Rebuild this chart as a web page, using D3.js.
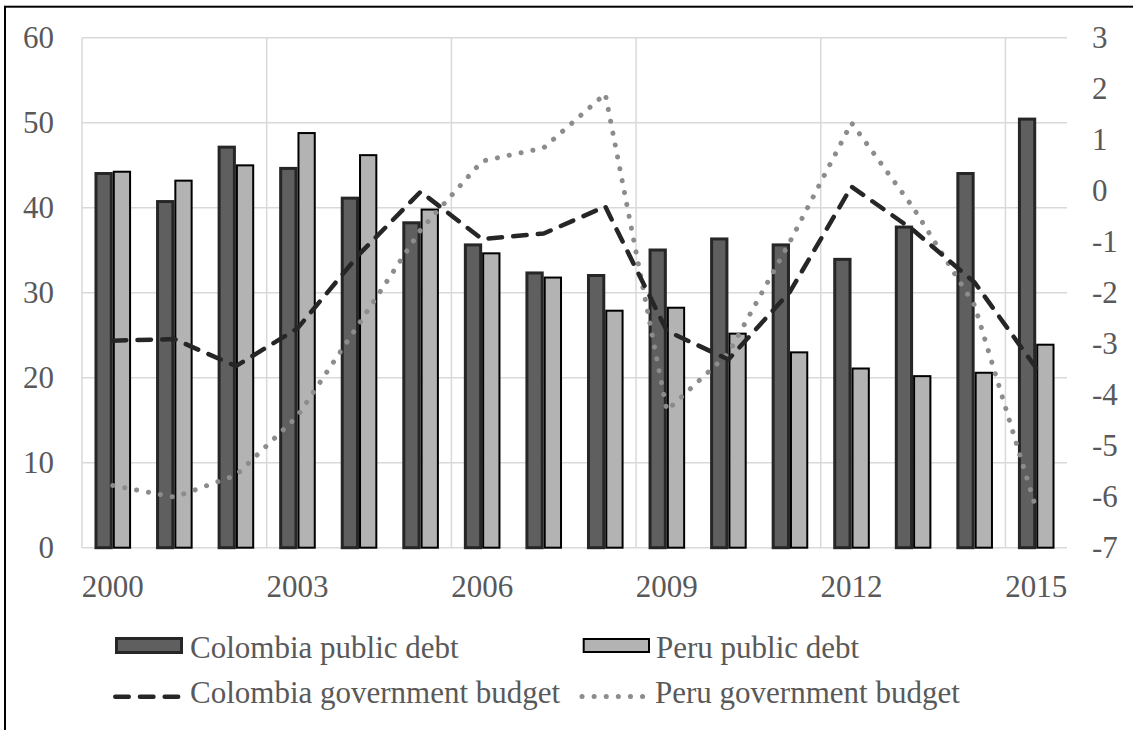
<html>
  <head>
    <script src="https://cdn.jsdelivr.net/npm/d3@7/dist/d3.min.js"></script>
    <style>
      body { margin: 0; background: #fff; }
    </style>
  </head>
  <body>
    <svg id="chart" width="1133" height="730" font-family="Liberation Serif, serif"></svg>
    <script>
      // data
      var years = ["2000","2001","2002","2003","2004","2005","2006","2007",
                   "2008","2009","2010","2011","2012","2013","2014","2015"];
      var colDebt = [44.2, 40.9, 47.3, 44.8, 41.3, 38.4, 35.8, 32.5,
                     32.2, 35.2, 36.5, 35.8, 34.1, 37.9, 44.2, 50.6];
      var peruDebt = [44.35, 43.3, 45.1, 48.9, 46.3, 39.9, 34.75, 31.9,
                      28.0, 28.35, 25.3, 23.1, 21.2, 20.3, 20.7, 24.0];
      var colBudget = [-2.94, -2.91, -3.44, -2.7, -1.25, -0.02, -0.95, -0.84,
                       -0.31, -2.75, -3.31, -1.98, 0.08, -0.77, -1.8, -3.48];
      var peruBudget = [-5.78, -6.01, -5.58, -4.42, -2.61, -0.77, 0.58, 0.84,
                        1.9, -4.31, -3.19, -1.0, 1.33, -0.33, -2.25, -6.24];
      var leftTicks = [0, 10, 20, 30, 40, 50, 60];
      var rightTicks = [-7, -6, -5, -4, -3, -2, -1, 0, 1, 2, 3];
      var yearTicks = ["2000","2003","2006","2009","2012","2015"];

      var svg = d3.select("#chart");
      var plotL = 82, plotR = 1067, plotT = 37.7, plotB = 547.7;
      var labelColor = "#595959";
      var fontFam = "Liberation Serif, serif";

      // frame (only left and top visible in the picture)
      svg.append("rect").attr("x", 5).attr("y", 6.7).attr("width", 1300).attr("height", 900)
        .attr("fill", "none").attr("stroke", "#000").attr("stroke-width", 2);

      var x = d3.scaleBand().domain(years).range([plotL, plotR]);
      var yL = d3.scaleLinear().domain([0, 60]).range([plotB, plotT]);
      var yR = d3.scaleLinear().domain([-7, 3]).range([plotB, plotT]);
      var bw = x.bandwidth();
      var x1 = d3.scaleBand().domain(["col", "peru"]).range([0, 36.6]);
      var off = (bw - 36.6) / 2;

      // gridlines
      var grid = svg.append("g").attr("stroke", "#d9d9d9").attr("stroke-width", 1.5);
      grid.selectAll("line.h").data(leftTicks).enter().append("line")
        .attr("x1", plotL).attr("x2", plotR)
        .attr("y1", function (d) { return yL(d); }).attr("y2", function (d) { return yL(d); });
      grid.selectAll("line.v").data(yearTicks).enter().append("line")
        .attr("x1", function (d) { return x(d); }).attr("x2", function (d) { return x(d); })
        .attr("y1", plotT).attr("y2", plotB);

      // bars
      var colSw = 3, peruSw = 2;
      svg.append("g").selectAll("rect").data(colDebt).enter().append("rect")
        .attr("x", function (d, i) { return x(years[i]) + off + x1("col") + colSw / 2; })
        .attr("y", function (d) { return yL(d) + colSw / 2; })
        .attr("width", x1.bandwidth() - colSw)
        .attr("height", function (d) { return plotB - yL(d) - colSw / 2; })
        .attr("fill", "#5f5f5f").attr("stroke", "#262626").attr("stroke-width", colSw);
      svg.append("g").selectAll("rect").data(peruDebt).enter().append("rect")
        .attr("x", function (d, i) { return x(years[i]) + off + x1("peru") + peruSw / 2; })
        .attr("y", function (d) { return yL(d) + peruSw / 2; })
        .attr("width", x1.bandwidth() - peruSw)
        .attr("height", function (d) { return plotB - yL(d) - peruSw / 2; })
        .attr("fill", "#b3b3b3").attr("stroke", "#000").attr("stroke-width", peruSw);

      // lines on right axis
      var line = d3.line()
        .x(function (d, i) { return x(years[i]) + bw / 2; })
        .y(function (d) { return yR(d); });
      svg.append("path").datum(peruBudget).attr("d", line)
        .attr("fill", "none").attr("stroke", "#8c8c8c").attr("stroke-width", 5)
        .attr("stroke-linecap", "round").attr("stroke-linejoin", "round")
        .attr("stroke-dasharray", "0.1,12");
      svg.append("path").datum(colBudget).attr("d", line)
        .attr("fill", "none").attr("stroke", "#262626").attr("stroke-width", 4.5)
        .attr("stroke-linecap", "round").attr("stroke-linejoin", "round")
        .attr("stroke-dasharray", "13.5,11.2");

      // axes
      function styleAxis(g) {
        g.attr("font-family", fontFam).attr("font-size", 31);
        g.select(".domain").remove();
        g.selectAll("text").attr("fill", labelColor);
      }
      svg.append("g").attr("transform", "translate(54,0)")
        .call(d3.axisLeft(yL).tickValues(leftTicks).tickSize(0).tickPadding(0))
        .call(styleAxis);
      svg.append("g").attr("transform", "translate(1092,0)")
        .call(d3.axisRight(yR).tickValues(rightTicks).tickSize(0).tickPadding(0)
          .tickFormat(function (d) { return String(d); }))
        .call(styleAxis);
      svg.append("g").attr("transform", "translate(0," + plotB + ")")
        .call(d3.axisBottom(x).tickValues(yearTicks).tickSize(0).tickPadding(27))
        .call(styleAxis);

      // legend
      var lg = svg.append("g").attr("font-family", fontFam).attr("font-size", 31);
      lg.append("rect").attr("x", 116.5).attr("y", 638.5).attr("width", 65).attr("height", 14)
        .attr("fill", "#5f5f5f").attr("stroke", "#262626").attr("stroke-width", 3);
      lg.append("rect").attr("x", 583.7).attr("y", 639).attr("width", 65.3).attr("height", 13)
        .attr("fill", "#b3b3b3").attr("stroke", "#000").attr("stroke-width", 2);
      lg.append("line").attr("x1", 115.25).attr("x2", 180).attr("y1", 696.7).attr("y2", 696.7)
        .attr("stroke", "#262626").attr("stroke-width", 4.5).attr("stroke-linecap", "round")
        .attr("stroke-dasharray", "13.5,11.2");
      lg.append("line").attr("x1", 582).attr("x2", 647).attr("y1", 696.5).attr("y2", 696.5)
        .attr("stroke", "#8c8c8c").attr("stroke-width", 5).attr("stroke-linecap", "round")
        .attr("stroke-dasharray", "0.1,12");
      var legendText = [
        { t: "Colombia public debt", x: 190, y: 658 },
        { t: "Peru public debt", x: 656, y: 658 },
        { t: "Colombia government budget", x: 190, y: 703 },
        { t: "Peru government budget", x: 655, y: 703 }
      ];
      lg.selectAll("text").data(legendText).enter().append("text")
        .attr("x", function (d) { return d.x; }).attr("y", function (d) { return d.y; })
        .attr("fill", labelColor)
        .text(function (d) { return d.t; });
    </script>
  </body>
</html>
